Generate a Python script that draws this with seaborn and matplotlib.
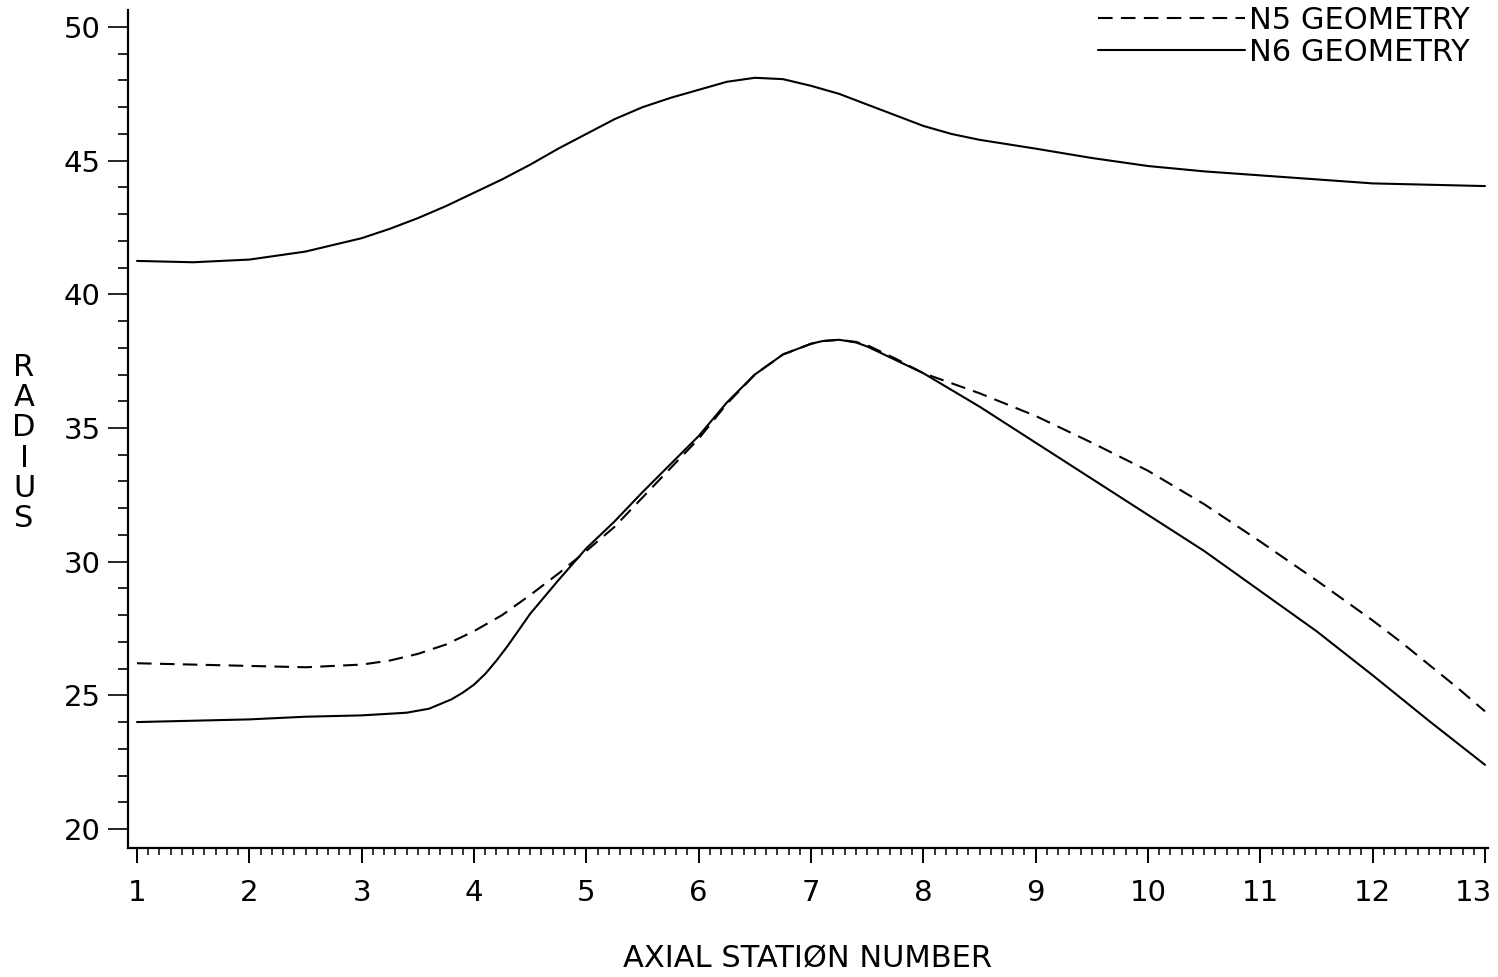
import numpy as np
import pandas as pd
import matplotlib
matplotlib.use("Agg")
import matplotlib.pyplot as plt
from matplotlib.ticker import MultipleLocator, FixedLocator
from matplotlib.transforms import ScaledTranslation
import seaborn as sns

# ---- data ----
outer_x = [1, 1.5, 2, 2.5, 2.75, 3, 3.25, 3.5, 3.75, 4, 4.25, 4.5, 4.75, 5, 5.25, 5.5,
           5.75, 6, 6.25, 6.5, 6.75, 7, 7.25, 7.5, 7.75, 8, 8.25, 8.5,
           9, 9.5, 10, 10.5, 11, 11.5, 12, 12.5, 13]
outer_r = [41.25, 41.2, 41.3, 41.6, 41.85, 42.1, 42.45, 42.85, 43.3, 43.8, 44.3, 44.85,
           45.45, 46.0, 46.55, 47.0, 47.35, 47.65, 47.95, 48.1, 48.05, 47.8, 47.5,
           47.1, 46.7, 46.3, 46.0, 45.78, 45.45, 45.1, 44.8, 44.6, 44.45, 44.3,
           44.15, 44.1, 44.05]

n6_x = [1, 1.5, 2, 2.5, 3, 3.4, 3.6, 3.8, 3.9, 4.0, 4.1, 4.2, 4.3, 4.4, 4.5, 4.75, 5,
        5.25, 5.5, 5.75, 6, 6.25, 6.5, 6.75, 7, 7.1, 7.25, 7.4, 7.5, 7.75, 8, 8.5, 9,
        9.5, 10, 10.5, 11, 11.5, 12, 12.5, 13]
n6_r = [24.0, 24.05, 24.1, 24.2, 24.25, 24.35, 24.5, 24.85, 25.1, 25.4, 25.8, 26.3,
        26.85, 27.45, 28.05, 29.3, 30.5, 31.5, 32.6, 33.65, 34.7, 35.95, 37.0, 37.75,
        38.15, 38.25, 38.3, 38.2, 38.05, 37.55, 37.05, 35.8, 34.45, 33.1, 31.75,
        30.4, 28.9, 27.4, 25.75, 24.05, 22.4]

n5_x = [1, 1.5, 2, 2.5, 3, 3.25, 3.5, 3.75, 4, 4.25, 4.5, 4.75, 5, 5.25, 5.5, 5.75, 6,
        6.25, 6.5, 6.75, 7, 7.1, 7.25, 7.4, 7.5, 7.75, 8, 8.5, 9, 9.5, 10, 10.5, 11,
        11.5, 11.75, 12, 12.25, 12.5, 12.75, 13]
n5_r = [26.2, 26.15, 26.1, 26.05, 26.15, 26.3, 26.55, 26.9, 27.4, 28.0, 28.75, 29.55,
        30.4, 31.3, 32.4, 33.5, 34.6, 35.9, 37.0, 37.75, 38.15, 38.25, 38.3, 38.22,
        38.1, 37.6, 37.05, 36.3, 35.45, 34.45, 33.4, 32.15, 30.75, 29.3, 28.55,
        27.8, 27.0, 26.15, 25.3, 24.4]

x_ticks = list(range(1, 14))
y_ticks = [20, 25, 30, 35, 40, 45, 50]
labels = ["N5 GEOMETRY", "N6 GEOMETRY"]

# ---- figure ----
sns.set_theme(style="ticks")
plt.rcParams["font.family"] = ["DejaVu Sans"]

W, H = 1498, 977
fig = plt.figure(figsize=(W / 100, H / 100), dpi=100)
fig.patch.set_facecolor("white")
ax = fig.add_axes([128 / W, 1 - 848 / H, (1488 - 128) / W, (848 - 10) / H])
ax.set_facecolor("white")

lw = 1.5
outer_df = pd.DataFrame({"x": outer_x, "r": outer_r})
n6_df = pd.DataFrame({"x": n6_x, "r": n6_r})
n5_df = pd.DataFrame({"x": n5_x, "r": n5_r})

sns.lineplot(data=outer_df, x="x", y="r", ax=ax, color="black", lw=lw,
             sort=False, estimator=None)
sns.lineplot(data=n6_df, x="x", y="r", ax=ax, color="black", lw=lw,
             sort=False, estimator=None)
sns.lineplot(data=n5_df, x="x", y="r", ax=ax, color="black", lw=lw,
             sort=False, estimator=None)
lines = ax.get_lines()
l_outer, l_n6, l_n5 = lines[0], lines[1], lines[2]
for l in lines:
    l.set_solid_joinstyle("round")
    l.set_dash_joinstyle("round")
l_n5.set_dashes((7, 4))

ax.set_xlim(1 - 9 / 112.33, 13 + 3 / 112.33)
ax.set_ylim(20 - 19 / 26.73, 50 + 17 / 26.73)

for s in ["top", "right"]:
    ax.spines[s].set_visible(False)
for s in ["left", "bottom"]:
    ax.spines[s].set_linewidth(1.6)
    ax.spines[s].set_color("black")

ax.xaxis.set_major_locator(FixedLocator(x_ticks))
ax.xaxis.set_minor_locator(MultipleLocator(0.1))
ax.yaxis.set_major_locator(FixedLocator(y_ticks))
ax.yaxis.set_minor_locator(MultipleLocator(1))
ax.set_xticklabels([str(t) for t in x_ticks])
ax.set_yticklabels([str(t) for t in y_ticks])

ax.tick_params(axis="x", which="major", direction="out", length=10.5, width=1.4,
               color="black", labelsize=21, pad=12, labelcolor="black")
ax.tick_params(axis="x", which="minor", direction="out", length=5, width=1.1,
               color="black")
ax.tick_params(axis="y", which="major", direction="out", length=14.5, width=1.2,
               color="black", labelsize=21, pad=5, labelcolor="black")
ax.tick_params(axis="y", which="minor", direction="out", length=7, width=1.2,
               color="black")

# keep the last x label ("13") inside the canvas, as in the reference
last = ax.xaxis.get_major_ticks()[-1].label1
last.set_transform(last.get_transform() +
                   ScaledTranslation(-12 / 100, 0, fig.dpi_scale_trans))

ax.set_xlabel("AXIAL STATIØN NUMBER", fontsize=22, labelpad=27, color="black")
ax.set_ylabel("")
fig.text(24 / W, 1 - 443 / H, "R\nA\nD\nI\nU\nS", ha="center", va="center",
         fontsize=22, linespacing=1.06, color="black")

leg = ax.legend([l_n5, l_n6], labels, loc="upper right",
                bbox_to_anchor=(1470 / W, 1 - 6 / H), bbox_transform=fig.transFigure,
                frameon=False, fontsize=22, handlelength=4.8, handletextpad=0.15,
                labelspacing=0.1, borderpad=0, borderaxespad=0)
for t in leg.get_texts():
    t.set_color("black")

fig.savefig("out.png", dpi=100, facecolor="white")
